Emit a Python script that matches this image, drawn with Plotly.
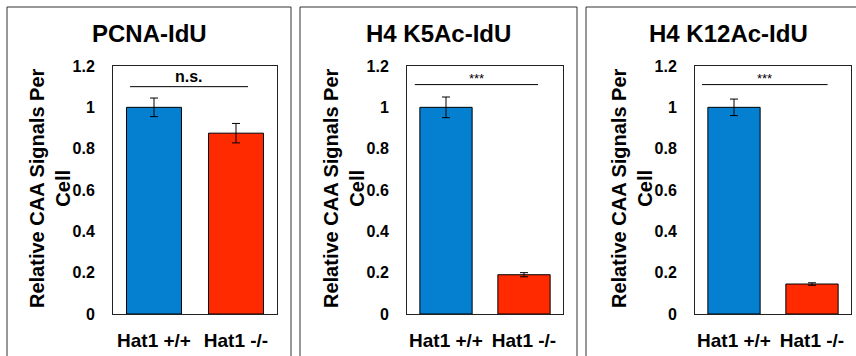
import plotly.graph_objects as go

categories = ["Hat1 +/+", "Hat1 -/-"]
titles = ["PCNA-IdU", "H4 K5Ac-IdU", "H4 K12Ac-IdU"]
values = [[1.0, 0.875], [1.0, 0.19], [1.0, 0.145]]
errors = [[0.045, 0.047], [0.05, 0.01], [0.04, 0.006]]
sig_labels = ["n.s.", "***", "***"]
sig_level = [1.10, 1.11, 1.11]
y_ticks = [0, 0.2, 0.4, 0.6, 0.8, 1.0, 1.2]
y_tick_text = ["0", "0.2", "0.4", "0.6", "0.8", "1", "1.2"]

bar_colors = ["#0580D0", "#FF2A00"]
W, H = 856, 356
FONT = "Liberation Sans, Arial, sans-serif"

plot_x = [(113, 277), (407, 563), (695, 851)]
box_x = [(7, 291), (300, 577), (586, 880)]
sig_x = [(0.104, 0.823), (0.05, 0.84), (0.045, 0.85)]
plot_top, plot_bot = 66, 314

fig = go.Figure()
shapes = []
annotations = []

for i in range(3):
    xa = "x" if i == 0 else f"x{i+1}"
    ya = "y" if i == 0 else f"y{i+1}"
    fig.add_trace(go.Bar(
        x=categories, y=values[i],
        marker=dict(color=bar_colors, line=dict(color="black", width=1)),
        error_y=dict(type="data", array=errors[i], color="black", thickness=1, width=4),
        xaxis=xa, yaxis=ya, showlegend=False, width=0.67, hoverinfo="skip",
    ))
    axsuffix = "" if i == 0 else str(i + 1)
    fig.update_layout(**{
        f"xaxis{axsuffix}": dict(
            domain=[plot_x[i][0] / W, plot_x[i][1] / W], anchor=ya,
            showline=True, mirror=True, linecolor="#222", linewidth=1,
            ticks="", ticklabelstandoff=9, automargin=False,
            tickfont=dict(family=FONT, size=19, color="black", weight="bold"),
            fixedrange=True,
        ),
        f"yaxis{axsuffix}": dict(
            domain=[1 - plot_bot / H, 1 - plot_top / H], anchor=xa,
            range=[0, 1.2], tickvals=y_ticks, ticktext=y_tick_text,
            showline=True, mirror=True, linecolor="#222", linewidth=1,
            showgrid=False, zeroline=False, ticks="", ticklabelstandoff=14, automargin=False,
            tickfont=dict(family=FONT, size=16, color="black", weight="bold"),
            fixedrange=True,
        ),
    })
    bx0, bx1 = box_x[i]
    for (x0, y0, x1, y1) in [(bx0, 7, bx1, 7), (bx0, 7, bx0, 400), (bx1, 7, bx1, 400)]:
        shapes.append(dict(type="line", xref="paper", yref="paper",
                           x0=x0 / W, x1=x1 / W, y0=1 - y0 / H, y1=1 - y1 / H,
                           line=dict(color="#333", width=1)))
    annotations.append(dict(text=f"<b>{titles[i]}</b>", xref="paper", yref="paper",
                            x=(bx0 + min(bx1, 870)) / 2 / W, y=1 - 33 / H,
                            showarrow=False, xanchor="center", yanchor="middle",
                            font=dict(family=FONT, size=24, color="black")))
    annotations.append(dict(text="<b>Relative CAA Signals Per<br>Cell</b>", xref="paper", yref="paper",
                            x=(plot_x[i][0] - 63) / W, y=1 - 188 / H, textangle=-90,
                            showarrow=False, xanchor="center", yanchor="middle",
                            font=dict(family=FONT, size=20, color="black")))
    shapes.append(dict(type="line", xref=f"{xa} domain", yref=ya,
                       x0=sig_x[i][0], x1=sig_x[i][1], y0=sig_level[i], y1=sig_level[i],
                       line=dict(color="black", width=1)))
    if sig_labels[i] == "n.s.":
        annotations.append(dict(text="<b>n.s.</b>", xref=f"{xa} domain", yref=ya,
                                x=sum(sig_x[i]) / 2, y=sig_level[i], yanchor="bottom",
                                showarrow=False, font=dict(family=FONT, size=16, color="black")))
    else:
        annotations.append(dict(text="***", xref=f"{xa} domain", yref=ya,
                                x=sum(sig_x[i]) / 2, y=sig_level[i], yanchor="bottom", yshift=-3,
                                showarrow=False, font=dict(family=FONT, size=13, color="black")))

fig.update_layout(
    width=W, height=H, margin=dict(l=0, r=0, t=0, b=0, pad=0),
    paper_bgcolor="white", plot_bgcolor="white",
    shapes=shapes, annotations=annotations, bargap=0.33,
)

fig.write_html("out.html", config={"displayModeBar": False},
               post_script="document.body.style.margin='0';document.body.style.overflow='hidden';")
